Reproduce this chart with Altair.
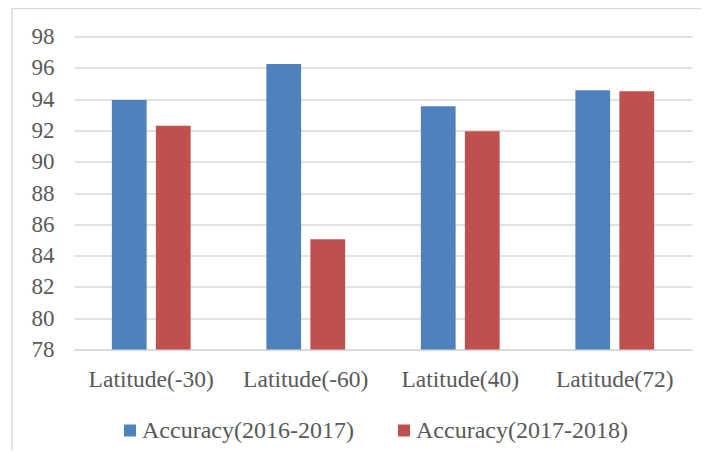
import altair as alt
import pandas as pd

categories = ["Latitude(-30)", "Latitude(-60)", "Latitude(40)", "Latitude(72)"]
series = ["Accuracy(2016-2017)", "Accuracy(2017-2018)"]
acc_2016_2017 = [93.94, 96.24, 93.54, 94.56]
acc_2017_2018 = [92.30, 85.04, 91.94, 94.50]
y_ticks = [78, 80, 82, 84, 86, 88, 90, 92, 94, 96, 98]
colors = ["#4f81bd", "#c0504d"]

rows = []
for i, c in enumerate(categories):
    rows.append({"cat": c, "series": series[0], "value": acc_2016_2017[i]})
    rows.append({"cat": c, "series": series[1], "value": acc_2017_2018[i]})
df = pd.DataFrame(rows)

FONT = "Liberation Serif, Times New Roman, serif"
TXT = "#595959"
GRID = "#d9d9d9"

bars = alt.Chart(df).mark_bar(strokeWidth=0).encode(
    x=alt.X("cat:N", sort=categories,
            scale=alt.Scale(paddingInner=0.49, paddingOuter=0.245),
            axis=alt.Axis(title=None, labelAngle=0, ticks=False, domain=True,
                          domainColor=GRID, domainWidth=1.5, grid=False,
                          labelFont=FONT, labelFontSize=23.5, labelColor=TXT,
                          labelPadding=18)),
    xOffset=alt.XOffset("series:N", sort=series,
                        scale=alt.Scale(paddingInner=0.21, paddingOuter=0)),
    y=alt.Y("value:Q",
            scale=alt.Scale(domain=[78, 98], zero=False, nice=False),
            axis=alt.Axis(title=None, values=y_ticks, ticks=False, domain=False,
                          grid=True, gridColor=GRID, gridWidth=1.5,
                          labelFont=FONT, labelFontSize=23, labelColor=TXT,
                          labelPadding=20)),
    y2=alt.datum(78),
    color=alt.Color("series:N", sort=series,
                    scale=alt.Scale(domain=series, range=colors),
                    legend=alt.Legend(title=None, orient="none", direction="horizontal",
                                      legendX=44, legendY=382, columnPadding=38,
                                      symbolType="square", symbolSize=144,
                                      symbolStrokeWidth=0, labelOffset=0,
                                      labelFont=FONT, labelFontSize=24,
                                      labelColor=TXT, labelLimit=400)),
)

one = pd.DataFrame({"a": [0]})
border_left = alt.Chart(one).mark_rule(color=GRID, strokeWidth=1.5).encode(
    x=alt.value(-62), y=alt.value(-28), y2=alt.value(430))
border_top = alt.Chart(one).mark_rule(color=GRID, strokeWidth=1.5).encode(
    x=alt.value(-62), x2=alt.value(640), y=alt.value(-28))

chart = alt.layer(border_left, border_top, bars).properties(
    width=618, height=313,
    autosize=alt.AutoSizeParams(type="none"),
    padding={"left": 66, "top": 28.5, "right": 9, "bottom": 100},
).configure(background="white", font=FONT).configure_view(strokeWidth=0, stroke="transparent")

chart.save("out.html", embed_options={"renderer": "svg", "actions": False})
